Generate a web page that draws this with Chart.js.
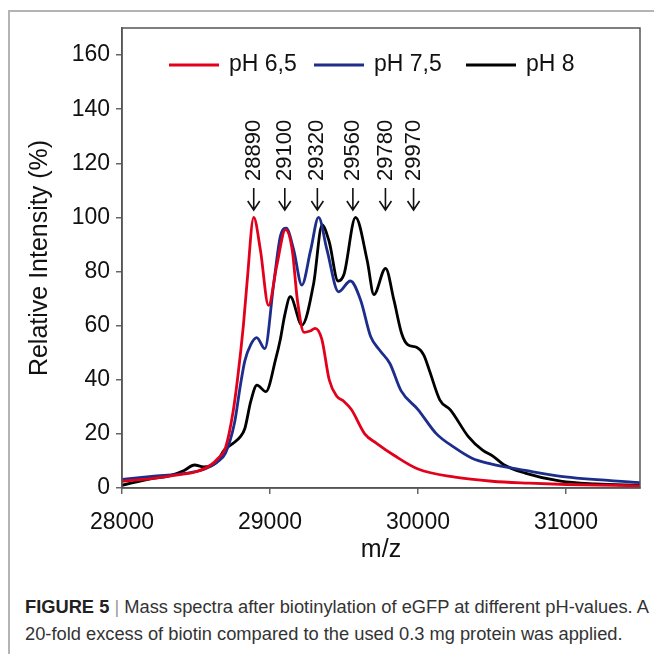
<!DOCTYPE html>
<html>
<head>
<meta charset="utf-8">
<script src="https://cdn.jsdelivr.net/npm/chart.js@4.4.1/dist/chart.umd.min.js"></script>
<style>
  body { margin: 0; background: #fff; }
  #frame { position: absolute; left: 8px; top: 10px; width: 660px; height: 660px;
           border-top: 2px solid #b4b4b4; border-left: 2px solid #b4b4b4; }
  #wrap { position: absolute; left: 0; top: 0; width: 654px; height: 580px; }
  #caption { position: absolute; left: 25px; top: 593px; width: 630px;
             font-family: 'Liberation Sans', Arial, sans-serif;
             font-size: 18.3px; line-height: 27px; color: #333; white-space: nowrap; }
  #caption b { color: #222; }
  #caption .bar { color: #999; }
</style>
</head>
<body>
<div id="frame"></div>
<div id="wrap"><canvas id="chartMS"></canvas></div>
<div id="caption"><b>FIGURE 5</b> <span class="bar">|</span> Mass spectra after biotinylation of eGFP at different pH-values. A<br>20-fold excess of biotin compared to the used 0.3 mg protein was applied.</div>
<script>
// Dados (m/z x intensidade relativa)
const seriesLabels = ['pH 6,5', 'pH 7,5', 'pH 8'];
const seriesColors = ['#e3001b', '#1c2d8c', '#000000'];

const mzRed  = [28000, 28200, 28400, 28500, 28600, 28650, 28700, 28750, 28780, 28820, 28845, 28890, 28935, 28990, 29045, 29105, 29150, 29185, 29230, 29270, 29305, 29350, 29400, 29450, 29500, 29550, 29640, 29720, 29840, 30000, 30250, 30500, 30750, 31000, 31500];
const intRed = [2.5, 3.5, 5, 6, 8.5, 11, 15, 28, 40, 60, 76, 100, 88, 67.5, 82, 95.5, 88, 69.5, 57.5, 58, 59, 55, 40, 34, 32, 29, 20, 16.5, 12, 7, 4, 2.5, 1.8, 1.3, 0.8];

const mzBlue  = [28000, 28200, 28440, 28560, 28640, 28700, 28760, 28800, 28830, 28870, 28910, 28965, 29025, 29070, 29110, 29160, 29215, 29275, 29328, 29385, 29463, 29543, 29612, 29680, 29740, 29810, 29885, 30000, 30125, 30245, 30365, 30485, 30725, 30965, 31500];
const intBlue = [3.2, 4.3, 5.5, 7, 9.5, 13, 24, 38, 47, 53, 55.6, 51.5, 75.5, 93, 96, 88, 75, 88, 100, 88, 72.5, 76.5, 69.5, 56, 51, 46, 36, 29, 20, 15, 11, 9, 6.5, 4.3, 2];

const mzBlack  = [28000, 28200, 28320, 28420, 28490, 28550, 28640, 28690, 28750, 28800, 28830, 28870, 28912, 28972, 29040, 29070, 29100, 29137, 29216, 29295, 29352, 29400, 29460, 29500, 29578, 29657, 29702, 29781, 29837, 29890, 29930, 29990, 30040, 30076, 30148, 30220, 30340, 30436, 30508, 30580, 30724, 30964, 31200, 31500];
const intBlack = [1, 3.5, 4.5, 6.5, 8.5, 7.8, 9.5, 14, 16.5, 19, 22, 32, 38, 35.6, 48, 55, 64, 70.7, 60.2, 75.6, 97.2, 91, 76.5, 79, 100, 84, 71.5, 81.2, 69.5, 57, 53, 52, 49, 43.6, 32.5, 28.8, 19, 14, 11.7, 8.6, 5.5, 2.5, 1.5, 1];

const peakLabels = [28890, 29100, 29320, 29560, 29780, 29970];
const xTicks = [28000, 29000, 30000, 31000];
const yTicks = [0, 20, 40, 60, 80, 100, 120, 140, 160];

Chart.defaults.font.family = "'Liberation Sans', Arial, sans-serif";
Chart.defaults.color = '#111';

const toPoints = (xs, ys) => xs.map((x, i) => ({ x: x, y: ys[i] }));
const allSeries = [[mzRed, intRed], [mzBlue, intBlue], [mzBlack, intBlack]];

// Moldura do gráfico + legenda interna + setas dos picos
const extrasPlugin = {
    id: 'extras',
    afterDraw(chart) {
        const ctx = chart.ctx;
        const a = chart.chartArea;
        ctx.save();
        ctx.strokeStyle = '#555';
        ctx.lineWidth = 1.5;
        ctx.strokeRect(a.left, a.top, a.right - a.left, a.bottom - a.top);

        // legenda
        const slots = [169, 314, 466];
        const ly = a.top + 37;
        ctx.font = "23px 'Liberation Sans', Arial, sans-serif";
        ctx.textBaseline = 'middle';
        chart.data.datasets.forEach((ds, i) => {
            ctx.strokeStyle = ds.borderColor;
            ctx.lineWidth = 3;
            ctx.beginPath();
            ctx.moveTo(slots[i], ly);
            ctx.lineTo(slots[i] + 50, ly);
            ctx.stroke();
            ctx.fillStyle = '#111';
            ctx.fillText(ds.label, slots[i] + 60, ly);
        });

        // setas + rótulos dos picos
        const xs = chart.scales.x;
        ctx.fillStyle = '#111';
        ctx.strokeStyle = '#111';
        ctx.lineWidth = 1.6;
        ctx.font = "22px 'Liberation Sans', Arial, sans-serif";
        peakLabels.forEach(p => {
            const px = xs.getPixelForValue(p);
            ctx.beginPath();
            ctx.moveTo(px, 188);
            ctx.lineTo(px, 210);
            ctx.moveTo(px - 6, 201);
            ctx.lineTo(px, 210);
            ctx.lineTo(px + 6, 201);
            ctx.stroke();
            ctx.save();
            ctx.translate(px, 181);
            ctx.rotate(-Math.PI / 2);
            ctx.textAlign = 'left';
            ctx.textBaseline = 'middle';
            ctx.fillText(String(p), 0, 0);
            ctx.restore();
        });
        ctx.restore();
    }
};

new Chart(document.getElementById('chartMS'), {
    type: 'line',
    data: {
        datasets: allSeries.map((s, i) => ({
            label: seriesLabels[i],
            data: toPoints(s[0], s[1]),
            borderColor: seriesColors[i],
            borderWidth: 2.8,
            pointRadius: 0,
            cubicInterpolationMode: 'monotone',
            fill: false
        }))
    },
    options: {
        responsive: true,
        maintainAspectRatio: false,
        animation: false,
        layout: { padding: { top: 28, right: 14, left: 0, bottom: 0 } },
        plugins: { legend: { display: false }, tooltip: { enabled: false } },
        scales: {
            x: {
                type: 'linear',
                min: 28000, max: 31500,
                afterBuildTicks: s => { s.ticks = xTicks.map(v => ({ value: v })); },
                afterFit: s => { s.height = 92; },
                ticks: { font: { size: 23 }, padding: 15, maxRotation: 0, color: '#111',
                         callback: v => String(v) },
                grid: { drawOnChartArea: false, tickLength: 6, color: '#666', lineWidth: 1.5 },
                border: { color: '#555', width: 1.5 },
                title: { display: true, text: 'm/z', font: { size: 25 }, color: '#111', padding: { top: 0, bottom: 15 } }
            },
            y: {
                min: 0, max: 170,
                afterBuildTicks: s => { s.ticks = yTicks.map(v => ({ value: v })); },
                afterFit: s => { s.width = 122; },
                ticks: { font: { size: 23 }, padding: 6, color: '#111' },
                grid: { drawOnChartArea: false, tickLength: 6, color: '#666', lineWidth: 1.5 },
                border: { color: '#555', width: 1.5 },
                title: { display: true, text: 'Relative Intensity (%)', font: { size: 25 }, color: '#111', padding: { top: 25, bottom: 0 } }
            }
        }
    },
    plugins: [extrasPlugin]
});
</script>
</body>
</html>
